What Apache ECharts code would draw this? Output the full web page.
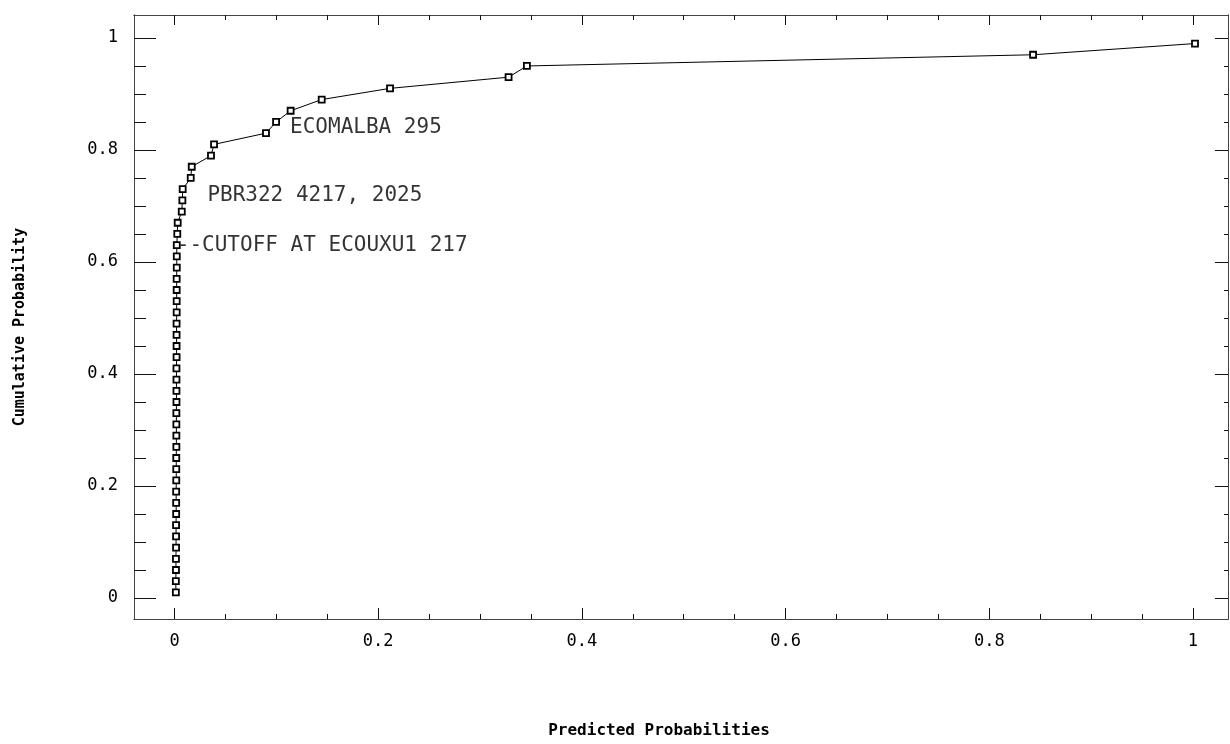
<!DOCTYPE html>
<html>
<head>
<meta charset="utf-8">
<script src="https://cdn.jsdelivr.net/npm/echarts@6/dist/echarts.min.js"></script>
<style>html,body{margin:0;padding:0;background:#fff;}#chart{width:1230px;height:744px;}</style>
</head>
<body>
<div id="chart"></div>
<script>
// Predicted probabilities (x) and cumulative probabilities (y)
const predicted = [
  0.0013, 0.0013, 0.0014, 0.0014, 0.0015, 0.0015, 0.0015, 0.0016, 0.0016, 0.0016,
  0.0017, 0.0017, 0.0017, 0.0018, 0.0018, 0.0018, 0.0018, 0.0019, 0.0019, 0.0019,
  0.0019, 0.0020, 0.0020, 0.0020, 0.0020, 0.0021, 0.0021, 0.0021, 0.0021, 0.0022,
  0.0022, 0.0022, 0.0027, 0.0031, 0.0071, 0.0077, 0.0080, 0.0159, 0.0169, 0.0358,
  0.0388, 0.0898, 0.0997, 0.1140, 0.1445, 0.2116, 0.3280, 0.3460, 0.8430, 1.0020
];
const cumulative = [
  0.01, 0.03, 0.05, 0.07, 0.09, 0.11, 0.13, 0.15, 0.17, 0.19,
  0.21, 0.23, 0.25, 0.27, 0.29, 0.31, 0.33, 0.35, 0.37, 0.39,
  0.41, 0.43, 0.45, 0.47, 0.49, 0.51, 0.53, 0.55, 0.57, 0.59,
  0.61, 0.63, 0.65, 0.67, 0.69, 0.71, 0.73, 0.75, 0.77, 0.79,
  0.81, 0.83, 0.85, 0.87, 0.89, 0.91, 0.93, 0.95, 0.97, 0.99
];
const xTickLabels = [0, 0.2, 0.4, 0.6, 0.8, 1];
const yTickLabels = [0, 0.2, 0.4, 0.6, 0.8, 1];
const xMinorTicks = [0.05, 0.1, 0.15, 0.25, 0.3, 0.35, 0.45, 0.5, 0.55, 0.65, 0.7, 0.75, 0.85, 0.9, 0.95];
const yMinorTicks = [0.05, 0.1, 0.15, 0.25, 0.3, 0.35, 0.45, 0.5, 0.55, 0.65, 0.7, 0.75, 0.85, 0.9, 0.95];
const annotationText = ['ECOMALBA 295', 'PBR322 4217, 2025', '--CUTOFF AT ECOUXU1 217'];
const annotationIndex = [42, 35, 31];

const X_MIN = -0.0398, X_MAX = 1.0344, Y_MIN = -0.0375, Y_MAX = 1.041;
const labelOffsets = [[14, 6], [25, -4.5], [0, 0]];
const lineCol = '#444';

function xAxisDef(pos, values, len, showLabel, extra) {
  return Object.assign({
    type: 'value', position: pos, min: X_MIN, max: X_MAX,
    axisLine: { show: true, onZero: false, lineStyle: { color: lineCol, width: 1 } },
    splitLine: { show: false },
    axisTick: { show: true, inside: true, length: len, customValues: values, lineStyle: { color: '#111', width: 1 } },
    axisLabel: showLabel ? {
      show: true, customValues: values, margin: 14,
      fontFamily: 'DejaVu Sans Mono', fontSize: 17, color: '#000',
      formatter: v => String(+v.toFixed(2))
    } : { show: false }
  }, extra || {});
}
function yAxisDef(pos, values, len, showLabel, extra) {
  return Object.assign({
    type: 'value', position: pos, min: Y_MIN, max: Y_MAX,
    axisLine: { show: true, onZero: false, lineStyle: { color: lineCol, width: 1 } },
    splitLine: { show: false },
    axisTick: { show: true, inside: true, length: len, customValues: values, lineStyle: { color: '#111', width: 1 } },
    axisLabel: showLabel ? {
      show: true, customValues: values, margin: 16,
      fontFamily: 'DejaVu Sans Mono', fontSize: 17, color: '#000',
      formatter: v => String(+v.toFixed(2))
    } : { show: false }
  }, extra || {});
}

const points = predicted.map((x, i) => [x, cumulative[i]]);
const annotations = annotationIndex.map((idx, k) => ({
  value: [predicted[idx], cumulative[idx]],
  label: { position: labelOffsets[k], formatter: annotationText[k] }
}));

const chart = echarts.init(document.getElementById('chart'), null, { renderer: 'canvas' });
chart.setOption({
  backgroundColor: '#fff',
  animation: false,
  grid: { left: 134, right: 2, top: 15, bottom: 125, containLabel: false },
  xAxis: [
    xAxisDef('bottom', xTickLabels, 11, true, {
      name: 'Predicted Probabilities', nameLocation: 'middle', nameGap: 104,
      nameTextStyle: { fontFamily: 'DejaVu Sans Mono', fontWeight: 'bold', fontSize: 16, color: '#000', padding: [0, 44, 0, 0] }
    }),
    xAxisDef('bottom', xMinorTicks, 5, false),
    xAxisDef('top', xTickLabels, 10, false),
    xAxisDef('top', xMinorTicks, 5, false)
  ],
  yAxis: [
    yAxisDef('left', yTickLabels, 22, true, {
      name: 'Cumulative Probability', nameLocation: 'middle', nameGap: 106, nameRotate: 90,
      nameTextStyle: { fontFamily: 'DejaVu Sans Mono', fontWeight: 'bold', fontSize: 15, color: '#000', padding: [0, 20, 0, 0] }
    }),
    yAxisDef('left', yMinorTicks, 12, false),
    yAxisDef('right', yTickLabels, 13, false),
    yAxisDef('right', yMinorTicks, 4, false)
  ],
  series: [
    {
      type: 'line', xAxisIndex: 0, yAxisIndex: 0,
      data: points,
      symbol: 'rect', symbolSize: 6,
      lineStyle: { color: '#000', width: 1 },
      itemStyle: { color: '#fff', borderColor: '#000', borderWidth: 1.8 },
      emphasis: { disabled: true }
    },
    {
      type: 'scatter', xAxisIndex: 0, yAxisIndex: 0,
      data: annotations,
      symbolSize: 0,
      label: {
        show: true, align: 'left', verticalAlign: 'middle',
        fontFamily: 'DejaVu Sans Mono', fontSize: 21, color: '#000'
      },
      emphasis: { disabled: true },
      silent: true
    }
  ]
});
</script>
</body>
</html>
